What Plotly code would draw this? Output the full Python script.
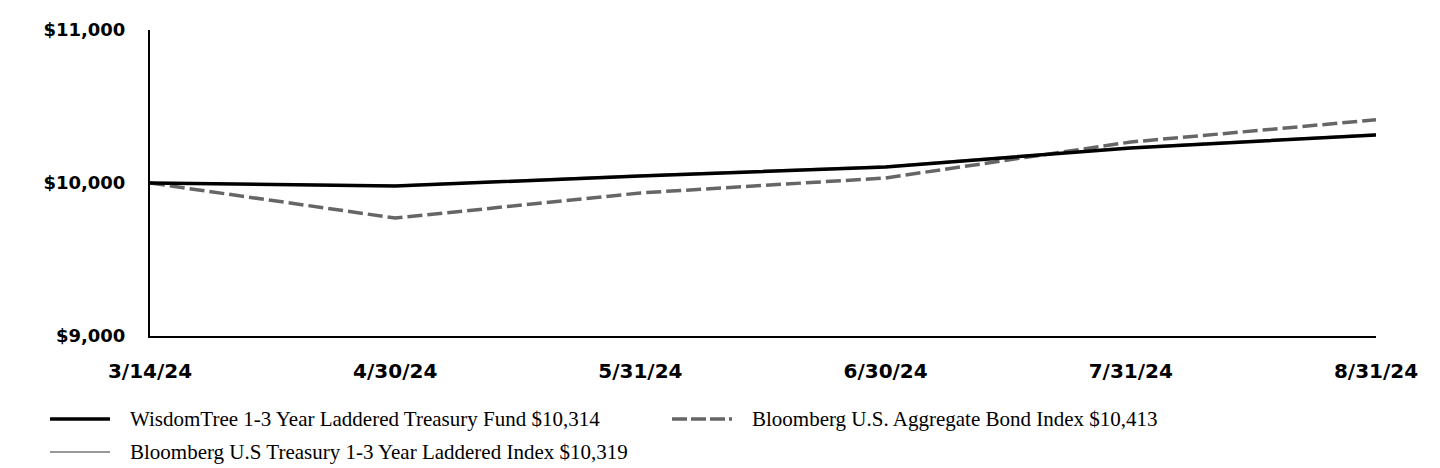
import plotly.graph_objects as go

dates = ["3/14/24", "4/30/24", "5/31/24", "6/30/24", "7/31/24", "8/31/24"]
fund = [10000, 9980, 10046, 10105, 10229, 10314]
agg = [10000, 9771, 9935, 10033, 10268, 10413]
ladder = [10000, 9984, 10050, 10109, 10233, 10319]

names = [
    "WisdomTree 1-3 Year Laddered Treasury Fund $10,314",
    "Bloomberg U.S. Aggregate Bond Index $10,413",
    "Bloomberg U.S Treasury 1-3 Year Laddered Index $10,319",
]

x = list(range(len(dates)))
fig = go.Figure()
fig.add_trace(go.Scatter(x=x, y=ladder, mode="lines", name=names[2],
                         line=dict(color="#999999", width=2), showlegend=False))
fig.add_trace(go.Scatter(x=x, y=agg, mode="lines", name=names[1],
                         line=dict(color="#666666", width=3.5, dash="15px,5px"), showlegend=False))
fig.add_trace(go.Scatter(x=x, y=fund, mode="lines", name=names[0],
                         line=dict(color="#000000", width=3.5), showlegend=False))

W, H = 1440, 468
L, R, T, B = 150, 64, 30, 132
pw, ph = W - L - R, H - T - B

def px(xp):
    return (xp - L) / pw

def py(yp):
    return (H - B - yp) / ph

legend_items = [
    (50, 419, 128, names[0], dict(color="#000000", width=3.5)),
    (672, 419, 750, names[1], dict(color="#666666", width=3.5, dash="15px,4px")),
    (50, 452, 128, names[2], dict(color="#999999", width=2)),
]
for lx, ly, tx, txt, ln in legend_items:
    fig.add_shape(type="line", xref="paper", yref="paper",
                  x0=px(lx), x1=px(lx + 60), y0=py(ly), y1=py(ly), line=ln)
    fig.add_annotation(xref="paper", yref="paper", x=px(tx), y=py(ly),
                       text=txt, showarrow=False, xanchor="left", yanchor="middle",
                       font=dict(family="Liberation Serif", size=21, color="#000"))

fig.update_layout(
    width=W, height=H,
    margin=dict(l=L, r=R, t=T, b=B),
    plot_bgcolor="white", paper_bgcolor="white",
    font=dict(family="DejaVu Sans", size=18, color="#000"),
)
fig.update_xaxes(
    range=[0, 5], tickmode="array", tickvals=x, ticktext=dates,
    showgrid=False, zeroline=False, showline=True, linecolor="#000", linewidth=2,
    ticks="", ticklabelstandoff=16,
    tickfont=dict(family="DejaVu Sans", size=20, weight="bold"),
)
fig.update_yaxes(
    range=[9000, 11000], tickmode="array", tickvals=[9000, 10000, 11000],
    ticktext=["$9,000", "$10,000", "$11,000"],
    showgrid=False, zeroline=False, showline=True, linecolor="#000", linewidth=2,
    ticks="", ticklabelstandoff=19,
    tickfont=dict(family="DejaVu Sans", size=18, weight="bold"),
)

fig.write_html("out.html")
